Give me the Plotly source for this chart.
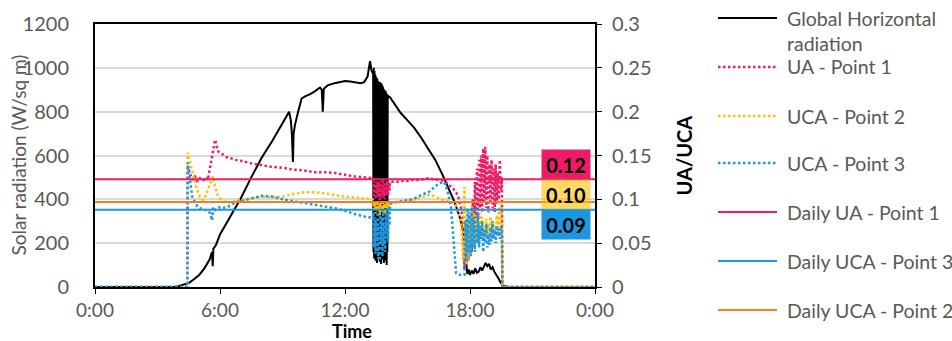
import plotly.graph_objects as go

# ---------------------------------------------------------------- data
# Global horizontal radiation (W/sq m), left axis
ghr_times = [
    "0:00", "3:45", "4:00", "4:15", "4:30", "4:45", "5:00", "5:15", "5:30", "5:37",
    "5:39", "5:41", "5:48", "6:00", "6:30", "7:00", "7:30", "8:00", "8:30", "8:53",
    "9:10", "9:19", "9:24", "9:27", "9:30", "9:32", "9:36", "9:45", "9:55", "10:05",
    "10:20", "10:35", "10:48", "10:53", "10:56", "10:59", "11:10", "11:30", "11:45", "12:00",
    "12:15", "12:30", "12:45", "12:55", "13:05", "13:12", "13:16", "13:20",
    "13:21", "13:22", "13:23", "13:24", "13:25", "13:26", "13:27", "13:28", "13:29", "13:30",
    "13:31", "13:32", "13:33", "13:34", "13:35", "13:36", "13:37", "13:38", "13:39", "13:40",
    "13:41", "13:42", "13:43", "13:44", "13:45", "13:46", "13:47", "13:48", "13:49", "13:50",
    "13:51", "13:52", "13:53", "13:54", "13:55", "13:56", "13:57", "13:58", "13:59", "14:00",
    "14:01", "14:02", "14:03", "14:04", "14:05",
    "14:10", "14:20", "14:40", "15:00", "15:20", "15:40", "16:00", "16:20", "16:40", "17:00",
    "17:15", "17:30", "17:40", "17:45", "17:48", "17:52", "17:56", "18:00", "18:05", "18:10",
    "18:15", "18:20", "18:25", "18:30", "18:35", "18:40", "18:45", "18:50", "18:55", "19:00",
    "19:05", "19:10", "19:15", "19:20", "19:25", "19:30", "19:40", "19:50", "24:00",
]
ghr_values = [
    0, 0, 4, 10, 18, 35, 55, 85, 125, 160,
    95, 175, 190, 240, 325, 405, 500, 590, 665, 725,
    775, 800, 760, 700, 570, 700, 740, 800, 860, 870,
    880, 895, 910, 900, 800, 905, 920, 930, 935, 940,
    938, 935, 930, 935, 960, 1030, 990, 975,
    990, 160, 1000, 130, 985, 180, 970, 120, 960, 150,
    955, 110, 950, 170, 940, 130, 935, 190, 930, 115,
    935, 140, 925, 105, 930, 160, 920, 125, 915, 150,
    905, 110, 900, 180, 890, 120, 895, 140, 885, 100,
    880, 160, 875, 200, 870,
    865, 840, 795, 760, 725, 680, 630, 580, 515, 440,
    390, 320, 265, 190, 110, 60, 80, 55, 75, 60,
    85, 65, 70, 90, 75, 95, 110, 95, 105, 80,
    90, 70, 60, 45, 30, 15, 3, 0, 0,
]

# UA / UCA ratios, right axis
ua_times = [
    "0:00", "4:26", "4:27", "4:34", "4:40", "4:48", "4:55", "5:02", "5:11", "5:18",
    "5:25", "5:32", "5:37", "5:40", "5:46", "5:51", "5:56", "6:05", "6:20", "6:30",
    "6:45", "7:00", "7:30", "8:00", "8:30", "9:00", "9:30", "10:00", "10:30", "11:00",
    "11:30", "12:00", "12:30", "13:00", "13:20",
    "13:22", "13:24", "13:26", "13:28", "13:30", "13:32", "13:34", "13:36", "13:38", "13:40",
    "13:42", "13:44", "13:46", "13:48", "13:50", "13:52", "13:54", "13:56", "13:58", "14:00",
    "14:02", "14:04", "14:06", "14:08", "14:10",
    "14:15", "14:30", "14:45", "15:00", "15:15", "15:30", "15:45", "16:00", "16:15", "16:30",
    "16:45", "16:55", "17:05", "17:12", "17:20", "17:27", "17:34", "17:38",
    "17:41", "17:44", "17:47", "17:50", "17:53", "17:56", "17:59",
    "18:02", "18:05", "18:08", "18:11", "18:14", "18:17", "18:20", "18:23", "18:26", "18:29",
    "18:32", "18:35", "18:38", "18:41", "18:44", "18:47", "18:50", "18:53", "18:56", "18:59",
    "19:02", "19:05", "19:08", "19:11", "19:14", "19:17", "19:20", "19:23", "19:26", "19:29",
    "19:32", "19:33", "24:00",
]
ua_point1 = [
    0, 0, 0.137, 0.128, 0.122, 0.126, 0.120, 0.124, 0.121, 0.125,
    0.122, 0.138, 0.150, 0.158, 0.168, 0.160, 0.154, 0.152, 0.148, 0.147,
    0.145, 0.144, 0.141, 0.139, 0.137, 0.136, 0.134, 0.133, 0.131, 0.131,
    0.130, 0.128, 0.126, 0.125, 0.124,
    0.122, 0.104, 0.120, 0.100, 0.118, 0.106, 0.124, 0.102, 0.119, 0.099,
    0.121, 0.105, 0.117, 0.101, 0.123, 0.103, 0.118, 0.100, 0.120, 0.107,
    0.122, 0.104, 0.119, 0.110, 0.120,
    0.120, 0.120, 0.121, 0.121, 0.122, 0.122, 0.123, 0.124, 0.123, 0.122,
    0.121, 0.118, 0.115, 0.112, 0.108, 0.102, 0.090, 0.080,
    0.060, 0.020, 0.065, 0.025, 0.070, 0.030, 0.050,
    0.085, 0.040, 0.100, 0.060, 0.120, 0.070, 0.135, 0.080, 0.145, 0.090,
    0.150, 0.085, 0.158, 0.095, 0.160, 0.090, 0.150, 0.085, 0.140, 0.095,
    0.145, 0.090, 0.135, 0.085, 0.140, 0.095, 0.130, 0.100, 0.145, 0.110,
    0.125, 0, 0,
]
uca_point2 = [
    0, 0, 0.153, 0.142, 0.130, 0.119, 0.110, 0.103, 0.099, 0.104,
    0.111, 0.118, 0.124, 0.126, 0.115, 0.107, 0.103, 0.099, 0.096, 0.097,
    0.098, 0.099, 0.101, 0.103, 0.103, 0.103, 0.106, 0.108, 0.108, 0.107,
    0.105, 0.103, 0.102, 0.101, 0.100,
    0.098, 0.088, 0.097, 0.084, 0.095, 0.090, 0.099, 0.086, 0.094, 0.082,
    0.096, 0.089, 0.093, 0.085, 0.097, 0.087, 0.095, 0.083, 0.096, 0.090,
    0.098, 0.088, 0.097, 0.092, 0.096,
    0.096, 0.097, 0.097, 0.098, 0.099, 0.101, 0.103, 0.105, 0.104, 0.101,
    0.099, 0.098, 0.097, 0.096, 0.092, 0.085, 0.075, 0.050,
    0.030, 0.114, 0.040, 0.025, 0.060, 0.030, 0.080,
    0.040, 0.092, 0.050, 0.085, 0.045, 0.080, 0.050, 0.075, 0.055, 0.085,
    0.060, 0.080, 0.055, 0.070, 0.060, 0.078, 0.058, 0.072, 0.060, 0.080,
    0.062, 0.075, 0.055, 0.070, 0.060, 0.082, 0.065, 0.090, 0.070, 0.095,
    0.080, 0, 0,
]
uca_point3 = [
    0, 0, 0.142, 0.119, 0.103, 0.097, 0.092, 0.090, 0.089, 0.088,
    0.087, 0.084, 0.076, 0.091, 0.088, 0.090, 0.091, 0.090, 0.091, 0.093,
    0.097, 0.098, 0.101, 0.104, 0.103, 0.100, 0.098, 0.096, 0.094, 0.092,
    0.090, 0.087, 0.083, 0.080, 0.079,
    0.085, 0.045, 0.080, 0.038, 0.075, 0.055, 0.088, 0.032, 0.070, 0.030,
    0.082, 0.050, 0.078, 0.035, 0.086, 0.048, 0.072, 0.040, 0.084, 0.060,
    0.088, 0.052, 0.090, 0.070, 0.094,
    0.096, 0.097, 0.098, 0.099, 0.100, 0.103, 0.106, 0.108, 0.113, 0.118,
    0.120, 0.110, 0.092, 0.054, 0.016, 0.014, 0.014, 0.014,
    0.014, 0.014, 0.076, 0.030, 0.090, 0.040, 0.085,
    0.035, 0.091, 0.045, 0.080, 0.040, 0.070, 0.050, 0.085, 0.045, 0.070,
    0.055, 0.075, 0.040, 0.065, 0.050, 0.072, 0.045, 0.060, 0.048, 0.068,
    0.052, 0.075, 0.055, 0.065, 0.050, 0.070, 0.058, 0.066, 0.055, 0.070,
    0.062, 0, 0,
]

# Daily averages
daily_names = ["Daily UA - Point 1", "Daily UCA - Point 3", "Daily UCA - Point 2"]
daily_values = [0.123, 0.088, 0.097]

day_span = ["0:00", "24:00"]
x_tick_labels = ["0:00", "6:00", "12:00", "18:00", "0:00"]

assert len(ghr_times) == len(ghr_values)
assert len(ua_times) == len(ua_point1) == len(uca_point2) == len(uca_point3)

# ---------------------------------------------------------------- styles
PINK = "#EE1C66"
YELLOW = "#FFC000"
BLUE = "#1B98E0"
ORANGE = "#F07F22"
GREY_TXT = "#595959"
FONT = "Lato"

W, H = 952, 341
ML, MR, MT, MB = 95, 357, 24, 54
PW, PH = W - ML - MR, H - MT - MB


def hours(t):
    h, m = t.split(":")
    return int(h) + int(m) / 60.0


def px_x(px):
    return (px - ML) / PW


def px_y(py):
    return (H - MB - py) / PH


DOT = "2.5px,2.5px"

fig = go.Figure()

fig.add_trace(go.Scatter(
    x=[hours(t) for t in ghr_times], y=ghr_values, mode="lines",
    name="Global Horizontal radiation", yaxis="y",
    line=dict(color="black", width=2), showlegend=False,
))

ua_x = [hours(t) for t in ua_times]
for name, vals, color in [
    ("UA - Point 1", ua_point1, PINK),
    ("UCA - Point 2", uca_point2, YELLOW),
    ("UCA - Point 3", uca_point3, BLUE),
]:
    fig.add_trace(go.Scatter(
        x=ua_x, y=vals, mode="lines", name=name, yaxis="y2",
        line=dict(color=color, width=2.5, dash=DOT), showlegend=False,
    ))

daily_colors = [PINK, BLUE, ORANGE]
span_x = [hours(t) for t in day_span]
for name, v, color in zip(daily_names, daily_values, daily_colors):
    fig.add_trace(go.Scatter(
        x=span_x, y=[v, v], mode="lines", name=name, yaxis="y2",
        line=dict(color=color, width=2), showlegend=False,
    ))

tick_font = dict(family=FONT, size=20, color=GREY_TXT)

fig.update_layout(
    width=W, height=H, autosize=False,
    margin=dict(l=ML, r=MR, t=MT, b=MB, pad=0),
    paper_bgcolor="white", plot_bgcolor="white",
    font=dict(family=FONT, color=GREY_TXT),
    showlegend=False,
    xaxis=dict(
        range=[0, 24], tickvals=[0, 6, 12, 18, 24], ticktext=x_tick_labels,
        showline=True, linecolor="black", linewidth=2, mirror=True,
        ticks="outside", ticklen=5, tickcolor="black", tickwidth=1,
        showgrid=False, zeroline=False,
        tickfont=dict(family=FONT, size=19, color=GREY_TXT),
    ),
    yaxis=dict(
        range=[0, 1200], dtick=200, showgrid=True, gridcolor="#D9D9D9", gridwidth=1.5,
        showline=True, linecolor="black", linewidth=2, ticks="",
        zeroline=False, tickfont=tick_font, ticklabelstandoff=20,
    ),
    yaxis2=dict(
        overlaying="y", side="right", range=[0, 0.3], dtick=0.05,
        showline=True, linecolor="black", linewidth=2,
        ticks="outside", ticklen=5, tickcolor="black", tickwidth=1,
        showgrid=False, zeroline=False, tickfont=tick_font, ticklabelstandoff=6,
    ),
)

annotations = [
    dict(text="Solar radiation (W/sq m)", xref="paper", yref="paper",
         x=px_x(18), y=0.5, xanchor="center", yanchor="middle",
         textangle=-90, showarrow=False,
         font=dict(family=FONT, size=19, color=GREY_TXT)),
    dict(text="<b>Time</b>", xref="paper", yref="paper",
         x=px_x(352), y=px_y(331), xanchor="center", yanchor="middle",
         showarrow=False, font=dict(family=FONT, size=18, color="black")),
    dict(text="<b>UA/UCA</b>", xref="paper", yref="paper",
         x=px_x(683), y=0.5, xanchor="center", yanchor="middle",
         textangle=-90, showarrow=False,
         font=dict(family=FONT, size=20, color="black")),
]

# value boxes for the daily averages
box_specs = [
    (daily_values[0], PINK, 15),
    (daily_values[2], "rgba(255,192,0,0.6)", 7),
    (daily_values[1], BLUE, -15),
]
for v, bg, shift in box_specs:
    annotations.append(dict(
        text=f"<b>{v:.2f}</b>", xref="x", yref="y2", x=22.63, y=v, yshift=shift,
        xanchor="center", yanchor="middle",
        showarrow=False, bgcolor=bg, width=46, height=27, borderpad=1,
        font=dict(family=FONT, size=20, color="black"),
    ))

# legend
legend_rows = [
    ("Global Horizontal<br>radiation", "black", None, 18),
    ("UA - Point 1", PINK, DOT, 67),
    ("UCA - Point 2", YELLOW, DOT, 116),
    ("UCA - Point 3", BLUE, DOT, 163),
    ("Daily UA - Point 1", PINK, None, 212),
    ("Daily UCA - Point 3", BLUE, None, 261),
    ("Daily UCA - Point 2", ORANGE, None, 310),
]
shapes = []
for label, color, dash, row_y in legend_rows:
    shapes.append(dict(
        type="line", xref="paper", yref="paper",
        x0=px_x(718), x1=px_x(777), y0=px_y(row_y), y1=px_y(row_y),
        line=dict(color=color, width=2.5 if dash else 2, dash=dash or "solid"),
    ))
    multi = "<br>" in label
    annotations.append(dict(
        text=label, xref="paper", yref="paper", x=px_x(785),
        y=px_y(row_y - 13) if multi else px_y(row_y),
        xanchor="left", yanchor="top" if multi else "middle", align="left",
        showarrow=False, font=dict(family=FONT, size=19.5, color=GREY_TXT),
    ))

fig.update_layout(annotations=annotations, shapes=shapes)

fig.write_html("out.html")
